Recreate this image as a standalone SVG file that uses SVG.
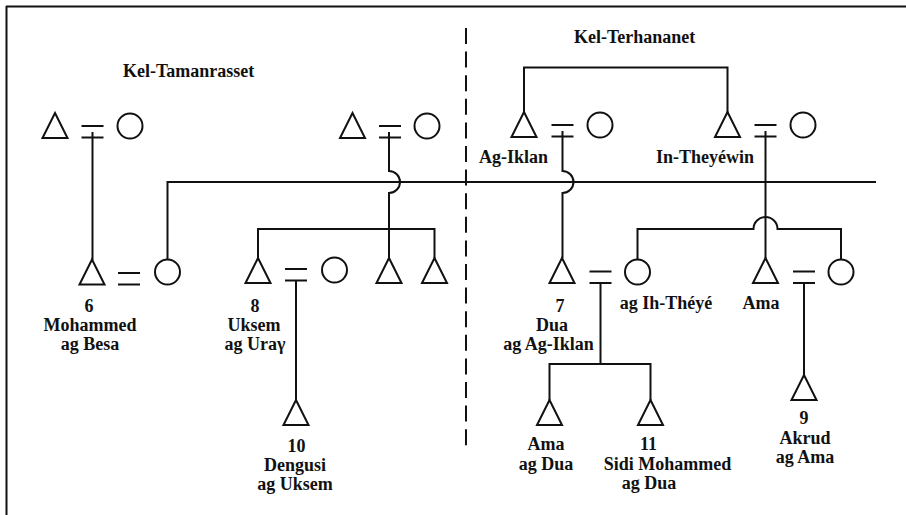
<svg xmlns="http://www.w3.org/2000/svg" width="906" height="515" viewBox="0 0 906 515">
  <defs>
    <style>
      .ln { fill: none; stroke: #111; stroke-width: 2; }
      .sym { fill: #fff; stroke: #111; stroke-width: 2; }
      .eq { stroke: #111; stroke-width: 2; }
      .lbl { font-family: "Liberation Serif", "Times New Roman", serif; font-size: 18px; font-weight: bold; fill: #111; text-anchor: middle; }
      .grp { font-family: "Liberation Serif", "Times New Roman", serif; font-size: 18px; font-weight: bold; fill: #111; }
    </style>
    <!-- male: triangle with apex at origin -->
    <path id="male" d="M0 0 L12.5 25 L-12.5 25 Z"/>
    <!-- equals sign (marriage), centred on origin -->
    <g id="marr">
      <line x1="-11" y1="-6" x2="11" y2="-6"/>
      <line x1="-11" y1="5.5" x2="11" y2="5.5"/>
    </g>
  </defs>
  <rect width="906" height="515" fill="#fff"/>

  <!-- frame (top and left edges only) -->
  <g id="frame" class="ln">
    <line x1="6" y1="6.5" x2="906" y2="6.5"/>
    <line x1="6.5" y1="6" x2="6.5" y2="515"/>
  </g>

  <!-- boundary between the two groups -->
  <line id="divider" x1="466" y1="28" x2="466" y2="451" class="ln" stroke-dasharray="16 7.6"/>

  <text class="grp" x="123" y="77">Kel-Tamanrasset</text>
  <text class="grp" x="574" y="43">Kel-Terhananet</text>

  <!-- connectors -->
  <g id="connectors" class="ln">
    <!-- left top couple to son 6 -->
    <line x1="92.5" y1="132" x2="92.5" y2="260"/>
    <!-- long link from wife of 6 across to the right -->
    <path d="M167.5 259.5 V182 H876"/>
    <!-- right top couple (left side) down to siblings, hopping the long link -->
    <path d="M389 132 V171 A11 11 0 0 1 389 193 V229"/>
    <path d="M258 258 V229 H434.5 V258"/>
    <line x1="389" y1="229" x2="389" y2="258"/>
    <!-- couple 8 to son 10 -->
    <line x1="296" y1="281" x2="296" y2="400"/>

    <!-- Kel-Terhananet brothers -->
    <path d="M524 113 V67.5 H727.5 V113"/>
    <!-- Ag-Iklan couple to 7, hopping the long link -->
    <path d="M562.5 131 V171 A11 11 0 0 1 562.5 193 V258"/>
    <!-- In-Theyewin couple to Ama -->
    <line x1="765.5" y1="131" x2="765.5" y2="258"/>
    <!-- sibling line of ag Ih-Theye and the wife of Ama, hopping the vertical -->
    <path d="M637.5 259.5 V229 H753.5 A12 12 0 0 1 777.5 229 H841 V259.5"/>
    <!-- couple 7 to children -->
    <path d="M600.5 283 V364"/>
    <path d="M549.5 400 V364 H650.5 V400"/>
    <!-- couple Ama to 9 -->
    <line x1="804" y1="283" x2="804" y2="375"/>
  </g>

  <!-- Kel-Tamanrasset -->
  <g id="couple-left-top">
    <use href="#male" class="sym" x="55" y="113"/>
    <use href="#marr" class="eq" x="92.5" y="132"/>
    <circle class="sym" cx="130" cy="126" r="12.5"/>
  </g>
  <g id="couple-right-top">
    <use href="#male" class="sym" x="352.5" y="113"/>
    <use href="#marr" class="eq" x="390" y="132"/>
    <circle class="sym" cx="427" cy="126" r="12.5"/>
  </g>
  <g id="person-6">
    <use href="#male" class="sym" x="92" y="259.5"/>
    <use href="#marr" class="eq" x="129" y="279"/>
    <circle class="sym" cx="167.5" cy="272" r="12.5"/>
    <text class="lbl" x="89" y="312">6</text>
    <text class="lbl" x="90" y="331">Mohammed</text>
    <text class="lbl" x="90" y="350">ag Besa</text>
  </g>
  <g id="person-8">
    <use href="#male" class="sym" x="258" y="258"/>
    <use href="#marr" class="eq" x="296" y="275"/>
    <circle class="sym" cx="334.5" cy="270" r="12.5"/>
    <text class="lbl" x="255" y="312">8</text>
    <text class="lbl" x="254" y="331">Uksem</text>
    <text class="lbl" x="255" y="350">ag Uraγ</text>
  </g>
  <g id="brother-a">
    <use href="#male" class="sym" x="389" y="258"/>
  </g>
  <g id="brother-b">
    <use href="#male" class="sym" x="434.5" y="258"/>
  </g>
  <g id="person-10">
    <use href="#male" class="sym" x="296" y="400"/>
    <text class="lbl" x="296.5" y="452">10</text>
    <text class="lbl" x="295" y="471">Dengusi</text>
    <text class="lbl" x="295" y="490">ag Uksem</text>
  </g>

  <!-- Kel-Terhananet -->
  <g id="ag-iklan">
    <use href="#male" class="sym" x="524" y="112"/>
    <use href="#marr" class="eq" x="562.5" y="131"/>
    <circle class="sym" cx="600" cy="125" r="12.5"/>
    <text class="lbl" x="513.5" y="163">Ag-Iklan</text>
  </g>
  <g id="in-theyewin">
    <use href="#male" class="sym" x="727.5" y="112"/>
    <use href="#marr" class="eq" x="765.5" y="131"/>
    <circle class="sym" cx="803" cy="125" r="12.5"/>
    <text class="lbl" x="705" y="163">In-Theyéwin</text>
  </g>
  <g id="person-7">
    <use href="#male" class="sym" x="562" y="258"/>
    <use href="#marr" class="eq" x="600.5" y="277.5"/>
    <circle class="sym" cx="637.5" cy="272" r="12.5"/>
    <text class="lbl" x="560" y="312">7</text>
    <text class="lbl" x="552" y="331">Dua</text>
    <text class="lbl" x="548.5" y="350">ag Ag-Iklan</text>
    <text class="lbl" x="666" y="309">ag Ih-Théyé</text>
  </g>
  <g id="ama">
    <use href="#male" class="sym" x="765.5" y="258"/>
    <use href="#marr" class="eq" x="804" y="277.5"/>
    <circle class="sym" cx="841" cy="272" r="12.5"/>
    <text class="lbl" x="761" y="309">Ama</text>
  </g>
  <g id="ama-ag-dua">
    <use href="#male" class="sym" x="549.5" y="400"/>
    <text class="lbl" x="546" y="450">Ama</text>
    <text class="lbl" x="546" y="469.5">ag Dua</text>
  </g>
  <g id="person-11">
    <use href="#male" class="sym" x="650.5" y="400"/>
    <text class="lbl" x="648.5" y="450">11</text>
    <text class="lbl" x="667.5" y="470">Sidi Mohammed</text>
    <text class="lbl" x="649" y="489">ag Dua</text>
  </g>
  <g id="person-9">
    <use href="#male" class="sym" x="804" y="375"/>
    <text class="lbl" x="804" y="424">9</text>
    <text class="lbl" x="805" y="444">Akrud</text>
    <text class="lbl" x="805" y="463">ag Ama</text>
  </g>
</svg>
